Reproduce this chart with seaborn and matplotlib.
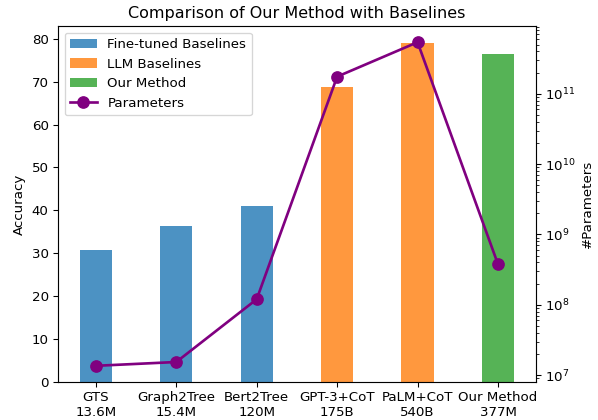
import numpy as np
import pandas as pd
import matplotlib
matplotlib.use('Agg')
import matplotlib.pyplot as plt
import seaborn as sns

methods = ['GTS', 'Graph2Tree', 'Bert2Tree', 'GPT-3+CoT', 'PaLM+CoT', 'Our Method']
param_labels = ['13.6M', '15.4M', '120M', '175B', '540B', '377M']
accuracy = [30.8, 36.4, 41.0, 68.8, 79.0, 76.5]
params = [13.6e6, 15.4e6, 120e6, 175e9, 540e9, 377e6]
groups = ['Fine-tuned Baselines'] * 3 + ['LLM Baselines'] * 2 + ['Our Method']
group_colors = {'Fine-tuned Baselines': 'tab:blue', 'LLM Baselines': 'tab:orange', 'Our Method': 'tab:green'}

df = pd.DataFrame({'method': methods, 'acc': accuracy, 'group': groups})

dpi = 96
fig, ax = plt.subplots(figsize=(598 / dpi, 420 / dpi), dpi=dpi)
sns.barplot(data=df, x='method', y='acc', hue='group', dodge=False, width=0.4,
            palette=group_colors, saturation=1, alpha=0.8, ax=ax)
ax.set_xlim(-0.47, 5.47)
ax.set_xticks(range(len(methods)))
ax.set_xticklabels([f'{m}\n{p}' for m, p in zip(methods, param_labels)])
ax.set_xlabel('')
ax.set_ylabel('Accuracy')
ax.set_title('Comparison of Our Method with Baselines')

ax2 = ax.twinx()
ax2.plot(np.arange(len(methods)), params, color='purple', marker='o',
         markersize=8.5, linewidth=2, label='Parameters')
ax2.set_yscale('log')
ax2.set_ylabel('#Parameters')

h1, l1 = ax.get_legend_handles_labels()
h2, l2 = ax2.get_legend_handles_labels()
ax.legend(h1 + h2, l1 + l2, loc='upper left')

fig.subplots_adjust(left=0.097, right=0.896, top=0.938, bottom=0.0905)
plt.savefig('out.png', dpi=dpi)
